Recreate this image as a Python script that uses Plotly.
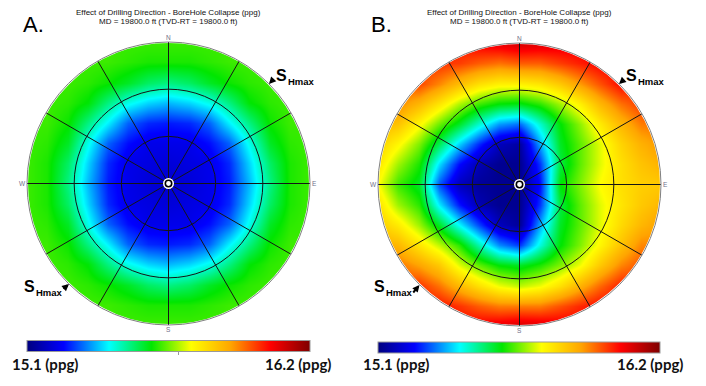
import plotly.graph_objects as go
import math

# ---------------- data ----------------
ppg_min, ppg_max = 15.1, 16.2
titles = ["Effect of Drilling Direction - BoreHole Collapse (ppg)",
          "MD = 19800.0 ft (TVD-RT = 19800.0 ft)"]
panel_letters = ["A.", "B."]
compass = ["N", "E", "S", "W"]
ring_radii = [1/3, 2/3]            # inclination rings (30°, 60°)
spoke_azimuths = [0, 30, 60, 90, 120, 150, 180, 210, 240, 270, 300, 330]
colorbar_tick_A = [15.69]

# grid of the stereonet, unit disk coordinates
grid_u = [-1.0, -0.857, -0.714, -0.571, -0.429, -0.286, -0.143, 0.0,
          0.143, 0.286, 0.429, 0.571, 0.714, 0.857, 1.0]
grid_v = [-1.0, -0.857, -0.714, -0.571, -0.429, -0.286, -0.143, 0.0,
          0.143, 0.286, 0.429, 0.571, 0.714, 0.857, 1.0]

# Panel A: collapse mud weight (ppg), rows from top (N) to bottom (S)
collapse_A = [
    [15.62]*15,
    [15.62, 15.62, 15.62, 15.62, 15.62, 15.61, 15.60, 15.60, 15.60, 15.61, 15.62, 15.62, 15.62, 15.62, 15.62],
    [15.62, 15.62, 15.62, 15.61, 15.59, 15.56, 15.52, 15.50, 15.52, 15.56, 15.59, 15.61, 15.62, 15.62, 15.62],
    [15.62, 15.62, 15.61, 15.58, 15.50, 15.43, 15.39, 15.37, 15.39, 15.43, 15.50, 15.58, 15.61, 15.62, 15.62],
    [15.62, 15.62, 15.59, 15.50, 15.41, 15.31, 15.27, 15.26, 15.27, 15.31, 15.41, 15.50, 15.59, 15.62, 15.62],
    [15.62, 15.61, 15.56, 15.43, 15.31, 15.25, 15.22, 15.22, 15.22, 15.25, 15.31, 15.43, 15.56, 15.61, 15.62],
    [15.62, 15.60, 15.52, 15.39, 15.27, 15.22, 15.21, 15.20, 15.21, 15.22, 15.27, 15.39, 15.52, 15.60, 15.62],
    [15.62, 15.60, 15.50, 15.37, 15.26, 15.22, 15.20, 15.19, 15.20, 15.22, 15.26, 15.37, 15.50, 15.60, 15.62],
    [15.62, 15.60, 15.52, 15.39, 15.27, 15.22, 15.21, 15.20, 15.21, 15.22, 15.27, 15.39, 15.52, 15.60, 15.62],
    [15.62, 15.61, 15.56, 15.43, 15.31, 15.25, 15.22, 15.22, 15.22, 15.25, 15.31, 15.43, 15.56, 15.61, 15.62],
    [15.62, 15.62, 15.59, 15.50, 15.41, 15.31, 15.27, 15.26, 15.27, 15.31, 15.41, 15.50, 15.59, 15.62, 15.62],
    [15.62, 15.62, 15.61, 15.58, 15.50, 15.43, 15.39, 15.37, 15.39, 15.43, 15.50, 15.58, 15.61, 15.62, 15.62],
    [15.62, 15.62, 15.62, 15.61, 15.59, 15.56, 15.52, 15.50, 15.52, 15.56, 15.59, 15.61, 15.62, 15.62, 15.62],
    [15.62, 15.62, 15.62, 15.62, 15.62, 15.61, 15.60, 15.60, 15.60, 15.61, 15.62, 15.62, 15.62, 15.62, 15.62],
    [15.62]*15,
]

# Panel B: collapse mud weight (ppg), rows from top (N) to bottom (S)
collapse_B = [
    [15.98, 15.99, 16.00, 16.00, 16.03, 16.06, 16.08, 16.10, 16.09, 16.08, 16.07, 16.06, 16.05, 16.05, 16.04],
    [15.96, 15.98, 15.99, 16.00, 15.99, 15.96, 15.94, 15.96, 15.96, 15.99, 16.02, 16.05, 16.05, 16.04, 16.02],
    [15.93, 15.95, 15.98, 15.92, 15.85, 15.79, 15.76, 15.76, 15.78, 15.83, 15.90, 15.97, 16.04, 16.01, 16.00],
    [15.90, 15.92, 15.86, 15.78, 15.69, 15.62, 15.58, 15.57, 15.61, 15.68, 15.76, 15.86, 15.94, 15.99, 15.97],
    [15.86, 15.84, 15.75, 15.65, 15.56, 15.45, 15.35, 15.32, 15.45, 15.58, 15.67, 15.77, 15.86, 15.93, 15.94],
    [15.82, 15.75, 15.66, 15.53, 15.39, 15.27, 15.17, 15.14, 15.36, 15.56, 15.64, 15.72, 15.81, 15.87, 15.91],
    [15.78, 15.68, 15.60, 15.40, 15.25, 15.16, 15.12, 15.12, 15.28, 15.54, 15.64, 15.72, 15.79, 15.84, 15.87],
    [15.74, 15.62, 15.56, 15.30, 15.17, 15.13, 15.12, 15.12, 15.25, 15.58, 15.66, 15.74, 15.79, 15.82, 15.83],
    [15.79, 15.68, 15.61, 15.41, 15.26, 15.16, 15.12, 15.12, 15.28, 15.54, 15.64, 15.72, 15.78, 15.83, 15.86],
    [15.83, 15.77, 15.68, 15.56, 15.42, 15.29, 15.17, 15.13, 15.36, 15.56, 15.64, 15.72, 15.80, 15.86, 15.90],
    [15.88, 15.86, 15.78, 15.70, 15.61, 15.47, 15.34, 15.28, 15.44, 15.58, 15.66, 15.75, 15.84, 15.92, 15.92],
    [15.91, 15.94, 15.89, 15.83, 15.72, 15.64, 15.58, 15.56, 15.60, 15.66, 15.73, 15.83, 15.92, 15.97, 15.96],
    [15.95, 15.97, 16.00, 15.94, 15.86, 15.79, 15.73, 15.70, 15.73, 15.79, 15.87, 15.95, 16.02, 16.00, 15.98],
    [15.97, 16.00, 16.01, 16.03, 16.00, 15.96, 15.93, 15.93, 15.93, 15.97, 16.01, 16.04, 16.03, 16.02, 16.00],
    [16.00, 16.00, 16.01, 16.03, 16.04, 16.06, 16.08, 16.10, 16.09, 16.07, 16.05, 16.05, 16.03, 16.03, 16.02],
]

# ---------------- layout constants ----------------
OFF = 8                      # page body margin of the html page
FW, FH = 706 - OFF, 386 - OFF

def px(x, y):
    """reference-picture pixel -> paper coordinates"""
    return (x - OFF) / FW, 1 - (y - OFF) / FH

panels = [  # center x, center y (px from top), radius px
    dict(cx=168.5, cy=183.5, R=141.5, data=collapse_A, ax="", ca="coloraxis"),
    dict(cx=519.5, cy=184.5, R=141.5, data=collapse_B, ax="2", ca="coloraxis2"),
]
PAD = 1.05

colorscale = [[0.0, "#00007F"], [0.13, "#0000FF"], [0.29, "#00FFFF"],
              [0.44, "#00E600"], [0.58, "#FFFF00"], [0.72, "#FFA500"],
              [0.86, "#FF0000"], [1.0, "#7F0000"]]

fig = go.Figure()
shapes, annotations = [], []

def label(text, x, y, size, xanchor="center", yanchor="middle", color="black",
          family="Liberation Sans", weight="normal"):
    X, Y = px(x, y)
    annotations.append(dict(text=text, xref="paper", yref="paper", x=X, y=Y,
                            xanchor=xanchor, yanchor=yanchor, showarrow=False,
                            font=dict(family=family, size=size, color=color, weight=weight)))

for k, p in enumerate(panels):
    xa, ya = "x" + p["ax"], "y" + p["ax"]
    fig.add_trace(go.Heatmap(
        x=grid_u, y=grid_v, z=p["data"][::-1], zsmooth="best",
        coloraxis=p["ca"], hoverinfo="skip", xaxis=xa, yaxis=ya))
    half = PAD * p["R"]
    x0, y1 = px(p["cx"] - half, p["cy"] - half)
    x1, y0 = px(p["cx"] + half, p["cy"] + half)
    axcommon = dict(range=[-PAD, PAD], visible=False, fixedrange=True)
    fig.update_layout(**{
        "xaxis" + p["ax"]: dict(domain=[x0, x1], anchor=ya, **axcommon),
        "yaxis" + p["ax"]: dict(domain=[y0, y1], anchor=xa, **axcommon),
    })
    # white mask outside the unit circle
    rc = 1.25
    shapes.append(dict(type="circle", xref=xa, yref=ya, x0=-rc, x1=rc, y0=-rc, y1=rc,
                       line=dict(color="white", width=0.5 * p["R"] + 2), layer="above"))
    for r in ring_radii:
        shapes.append(dict(type="circle", xref=xa, yref=ya, x0=-r, x1=r, y0=-r, y1=r,
                           line=dict(color="#151515", width=1), layer="above"))
    for a in spoke_azimuths:
        t = math.radians(a)
        shapes.append(dict(type="line", xref=xa, yref=ya, x0=0, y0=0,
                           x1=math.sin(t), y1=math.cos(t),
                           line=dict(color="#151515", width=1), layer="above"))
    shapes.append(dict(type="circle", xref=xa, yref=ya, x0=-1, x1=1, y0=-1, y1=1,
                       line=dict(color="#808080", width=1), layer="above"))
    # center marker
    for rad, lw in [(5.5, 0), (3.2, 1.6)]:
        shapes.append(dict(type="circle", xref=xa, yref=ya, xsizemode="pixel", ysizemode="pixel",
                           xanchor=0, yanchor=0, x0=-rad, x1=rad, y0=-rad, y1=rad,
                           fillcolor="white", line=dict(color="black", width=lw), layer="above"))
    # compass labels
    offs = {"N": (0, -1), "E": (1, 0), "S": (0, 1), "W": (-1, 0)}
    for c in compass:
        dx, dy = offs[c]
        label(c, p["cx"] + dx * (p["R"] + 4), p["cy"] + dy * (p["R"] + 4), 6.5, color="#707088")
    # titles
    for j, t in enumerate(titles):
        label(t, p["cx"], 12 + 9.5 * j, 8, color="#111111")

# panel letters
for letter, xpx in zip(panel_letters, [21, 369]):
    label(letter, xpx, 24, 22, xanchor="left")

# colorbar end labels
for txt, xpx, anc in [("15.1 (ppg)", 10, "left"), ("16.2 (ppg)", 333, "right"),
                      ("15.1 (ppg)", 361, "left"), ("16.2 (ppg)", 685, "right")]:
    label(txt, xpx, 364, 15, xanchor=anc, family="Lato", weight="bold", color="#111111")

# S_Hmax labels: (S center x, S center y, arrow head, arrow tail)
shmax = [
    (281.5, 75.5, (269, 84), (274.5, 78)),
    (29.0, 286.5, (69, 284), (62, 290)),
    (631.0, 75.5, (619, 84), (624.5, 79)),
    (379.0, 286.5, (419.5, 285), (412, 294)),
]
for sx, sy, head, tail in shmax:
    label("S", sx, sy, 16, weight="bold")
    label("Hmax", sx + 4.5, sy + 5.5, 9.5, xanchor="left", weight="bold")
    hx, hy = px(*head)
    annotations.append(dict(text="", xref="paper", yref="paper", x=hx, y=hy,
                            ax=tail[0] - head[0], ay=tail[1] - head[1], showarrow=True,
                            arrowhead=2, arrowsize=0.7, arrowwidth=2, arrowcolor="black", standoff=0))

def cbar(x_left, x_right, tickvals):
    X0, Y = px((x_left + x_right) / 2, 347.5)
    return dict(orientation="h", x=X0, xanchor="center", y=Y, yanchor="middle",
                lenmode="pixels", len=x_right - x_left, thicknessmode="pixels", thickness=11,
                outlinewidth=1, outlinecolor="#9a9a9a", xpad=0, ypad=0,
                showticklabels=False, ticks="outside" if tickvals else "",
                ticklen=3, tickcolor="#9a9a9a", tickvals=tickvals)

fig.update_layout(
    width=FW, height=FH, margin=dict(l=0, r=0, t=0, b=0, pad=0, autoexpand=False),
    paper_bgcolor="white", plot_bgcolor="white", showlegend=False,
    coloraxis=dict(colorscale=colorscale, cmin=ppg_min, cmax=ppg_max,
                   colorbar=cbar(27, 310, colorbar_tick_A)),
    coloraxis2=dict(colorscale=colorscale, cmin=ppg_min, cmax=ppg_max,
                    colorbar=cbar(378, 660, [])),
    shapes=shapes, annotations=annotations,
)

fig.write_html("out.html")
